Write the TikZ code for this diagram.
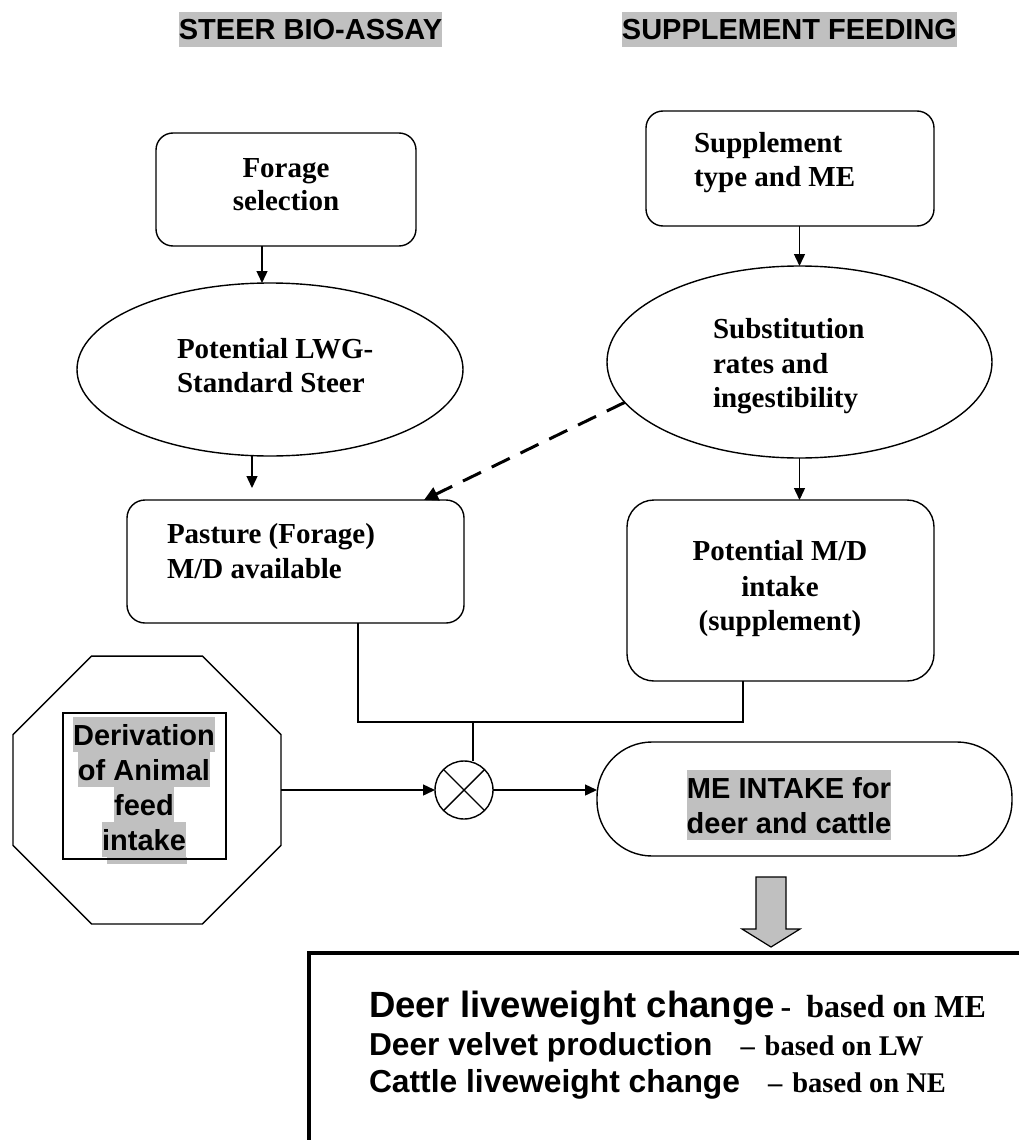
\documentclass[tikz,border=0pt]{standalone}
\usepackage{fontspec}
\setmainfont{Liberation Serif}
\newfontfamily\arialf{Liberation Sans}
\usetikzlibrary{shapes.geometric,arrows.meta}
\definecolor{hl}{HTML}{C0C0C0}
\begin{document}
\begin{tikzpicture}[x=1pt,y=-1pt,
  every node/.style={inner sep=0pt, outer sep=0pt},
  ln/.style={line width=1.4pt},
  boxr/.style={draw, ln, rectangle, rounded corners=#1},
  oval/.style={draw, ln, ellipse},
  tml/.style={font=\fontsize{29}{34}\selectfont\bfseries, anchor=base west},
  tmc/.style={font=\fontsize{29}{34}\selectfont\bfseries, anchor=base},
  hlt/.style={font=\arialf\fontsize{29}{34}\selectfont\bfseries, fill=hl, text height=28pt, text depth=7pt, anchor=base},
  arr/.style={ln, -{Triangle[length=12pt,width=11pt]}}
]
\useasboundingbox (0,0) rectangle (1019,1140);

% titles
\node[hlt] (t1) at (310.5,40) {STEER BIO-ASSAY};
\node[hlt] (t2) at (789.5,40) {SUPPLEMENT FEEDING};

% left column
\node[boxr=17pt, minimum width=260pt, minimum height=113pt] (forage) at (286,189.5) {};
\node[tmc] (f1) at (286,177) {Forage};
\node[tmc] (f2) at (286,210) {selection};

\node[oval, minimum width=386pt, minimum height=173pt] (ell1) at (270,369.5) {};
\node[tml] (e11) at (177,358) {Potential LWG-};
\node[tml] (e12) at (177,392) {Standard Steer};

\node[boxr=18pt, minimum width=337pt, minimum height=123pt] (pasture) at (295.5,561.5) {};
\node[tml] (p1) at (167,543) {Pasture (Forage)};
\node[tml] (p2) at (167,578) {M/D available};

% right column
\node[boxr=17pt, minimum width=288pt, minimum height=115pt] (supp) at (790,168.5) {};
\node[tml] (s1) at (694,152) {Supplement};
\node[tml] (s2) at (694,186) {type and ME};

\node[oval, minimum width=385pt, minimum height=192pt] (ell2) at (799.5,362) {};
\node[tml] (e21) at (713,338) {Substitution};
\node[tml] (e22) at (713,373) {rates and};
\node[tml] (e23) at (713,407) {ingestibility};

\node[boxr=27pt, minimum width=307pt, minimum height=181pt] (potmd) at (780.5,590.5) {};
\node[tmc] (m1) at (780,560) {Potential M/D};
\node[tmc] (m2) at (780,596) {intake};
\node[tmc] (m3) at (780,630) {(supplement)};

% octagon
\node[draw, ln, regular polygon, regular polygon sides=8, minimum size=290pt] (oct) at (147,790) {};
\fill[hl] (107,857) rectangle (187,864);
\node[hlt] (o1) at (144,745) {Derivation};
\node[hlt] (o2) at (144,780) {of Animal};
\node[hlt] (o3) at (144,815) {feed};
\node[hlt] (o4) at (144,850) {intake};
\node[draw, ln, rectangle, minimum width=163pt, minimum height=146pt] (inbox) at (144.5,786) {};

% multiplier
\node[draw, ln, circle, minimum size=58pt] (circ) at (464,790) {};
\draw[ln] (circ.45) -- (circ.225);
\draw[ln] (circ.135) -- (circ.315);

% ME intake
\node[draw, ln, rectangle, rounded corners=55pt, minimum width=415pt, minimum height=114pt] (stad) at (804.5,799) {};
\node[hlt] (i1) at (789,798) {ME INTAKE for};
\node[hlt] (i2) at (789,833) {deer and cattle};

% connectors
\coordinate (a1) at (262,0);
\coordinate (a2) at (252,0);
\draw[arr] (forage.south -| a1) -- (ell1.north -| a1);
\draw[arr] (ell1.south -| a2) -- ([yshift=12pt]pasture.north -| a2);
\draw[arr] (supp.south -| ell2.north) -- (ell2.north);
\draw[arr] (ell2.south) -- (ell2.south |- potmd.north);
\draw[line width=3pt, dash pattern=on 20pt off 12pt, -{Triangle[length=14pt,width=14pt]}] (ell2.193) -- ([xshift=-40pt]pasture.north east);

\coordinate (jl) at (358,722);
\coordinate (jr) at (743,722);
\coordinate (jm) at (473,722);
\draw[ln] (pasture.south -| jl) -- (jl) -- (jr) -- (potmd.south -| jr);
\draw[ln] (jm) -- (jm |- circ.north);
\draw[arr] (oct.east) -- (circ.west);
\draw[arr] (circ.east) -- (circ.east -| stad.west);

% block arrow
\draw[fill=hl, line width=1.2pt] (756,877) -- (786,877) -- (786,929) -- (800,929) -- (771,947) -- (742,929) -- (756,929) -- cycle;

% output box
\draw[line width=4.5pt] (309,1140) -- (309,953) -- (1019,953);
\node[anchor=base west] (r1) at (369,1017) {\bfseries{\arialf\fontsize{36.5}{40}\selectfont Deer liveweight change}\hspace{6pt}{\fontsize{32}{36}\selectfont -\hspace{15pt}based on ME}};
\node[anchor=base west] (r2) at (369,1055) {\bfseries{\arialf\fontsize{31.7}{36}\selectfont Deer velvet production}\hspace{28pt}{\fontsize{28.5}{34}\selectfont --\hspace{10pt}based on LW}};
\node[anchor=base west] (r3) at (369,1092) {\bfseries{\arialf\fontsize{31.8}{36}\selectfont Cattle liveweight change}\hspace{28pt}{\fontsize{28.5}{34}\selectfont --\hspace{10pt}based on NE}};
\end{tikzpicture}
\end{document}
